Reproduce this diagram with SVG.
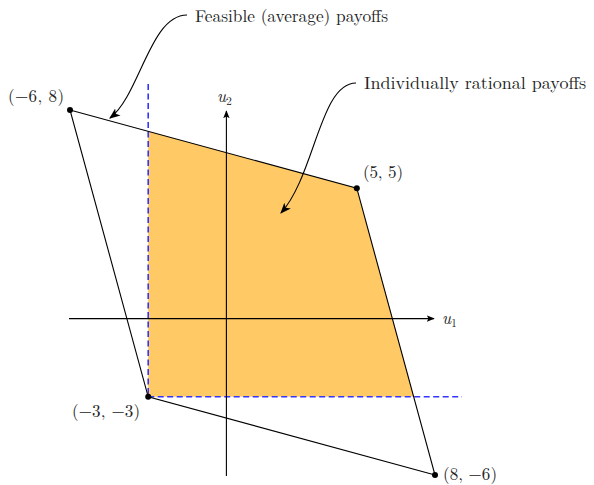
<svg xmlns="http://www.w3.org/2000/svg" width="594" height="485" viewBox="0 0 594 485">
<style>
text{font-family:"Latin Modern Roman","Liberation Serif","DejaVu Serif",serif;font-size:17px;fill:#222}
.ln{fill:none;stroke:#000;stroke-width:1.1}
.dash{fill:none;stroke:#3434ff;stroke-width:1.6;stroke-dasharray:6 3.5}
.dot{fill:#000}
.it{font-style:italic}
</style>
<defs>
<marker id="ah" viewBox="0 0 10 10" refX="9" refY="5" markerWidth="8" markerHeight="8" markerUnits="userSpaceOnUse" orient="auto">
<path d="M0,1 L10,5 L0,9 L2,5 Z" fill="#000"/>
</marker>
<marker id="ah2" viewBox="0 0 10 10" refX="9" refY="5" markerWidth="11" markerHeight="11" markerUnits="userSpaceOnUse" orient="auto">
<path d="M0,1 L10,5 L0,9 L2.5,5 Z" fill="#000"/>
</marker>
</defs>
<g id="rational-region">
<polygon points="148.2,131.3 356.8,188.2 413.7,396.8 148.2,396.8" fill="#ffc966"/>
</g>
<g id="thresholds">
<line class="dash" x1="148.2" y1="84" x2="148.2" y2="396.8"/>
<line class="dash" x1="148.2" y1="396.8" x2="462" y2="396.8"/>
</g>
<g id="axes">
<line class="ln" x1="69" y1="318.6" x2="434" y2="318.6" marker-end="url(#ah)"/>
<line class="ln" x1="226.4" y1="476" x2="226.4" y2="111" marker-end="url(#ah)"/>
<text class="it" x="442" y="324">u<tspan font-size="11" font-style="normal" dy="3">1</tspan></text>
<text class="it" x="217" y="102">u<tspan font-size="11" font-style="normal" dy="3">2</tspan></text>
</g>
<g id="feasible-set">
<polygon class="ln" points="70,110 356.8,188.2 435,475 148.2,396.8"/>
</g>
<g id="vertices">
<circle class="dot" cx="70" cy="110" r="3"/>
<circle class="dot" cx="356.8" cy="188.2" r="3"/>
<circle class="dot" cx="148.2" cy="396.8" r="3"/>
<circle class="dot" cx="435" cy="475" r="3"/>
<text x="8" y="102" textLength="56" lengthAdjust="spacing">(−6, 8)</text>
<text x="363" y="178" textLength="40" lengthAdjust="spacing">(5, 5)</text>
<text x="72" y="417" textLength="68" lengthAdjust="spacing">(−3, −3)</text>
<text x="443" y="480" textLength="54" lengthAdjust="spacing">(8, −6)</text>
</g>
<g id="connectors">
<path class="ln" stroke-width="1.4" d="M187,15 C150,15 140,95 110,118" marker-end="url(#ah2)"/>
<path class="ln" stroke-width="1.4" d="M356,83 C320,83 315,175 281,213" marker-end="url(#ah2)"/>
</g>
<g id="annotations">
<text x="195" y="22" textLength="193" lengthAdjust="spacingAndGlyphs">Feasible (average) payoffs</text>
<text x="364" y="89" textLength="222" lengthAdjust="spacingAndGlyphs">Individually rational payoffs</text>
</g>
</svg>
